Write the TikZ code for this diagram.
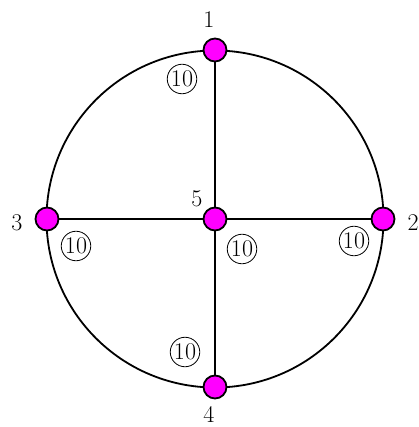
\documentclass[tikz,border=0pt]{standalone}
\usetikzlibrary{backgrounds}
\definecolor{vmag}{RGB}{255,0,255}
\begin{document}
\begin{tikzpicture}[x=1pt,y=-1pt,
  vtx/.style={circle,fill=vmag,draw=black,line width=1.8pt,minimum size=23pt,inner sep=0pt},
  edge/.style={line width=1.8pt,black},
  lbl/.style={font=\fontsize{24}{28}\selectfont,inner sep=0pt},
  wt/.style={circle,draw=black,line width=0.8pt,inner sep=0.8pt,font=\fontsize{24}{28}\selectfont}]
\useasboundingbox (0,0) rectangle (418,427);
\node[vtx] (v1) at (215,50) {};
\node[vtx] (v2) at (383,219) {};
\node[vtx] (v3) at (47,219) {};
\node[vtx] (v4) at (215,387) {};
\node[vtx] (v5) at (215,219) {};
\begin{scope}[on background layer]
\fill[white] (0,0) rectangle (418,427);
\draw[edge] (v5.center) circle[radius=168.5pt];
\end{scope}
\draw[edge] (v1) -- (v5);
\draw[edge] (v3) -- (v5);
\draw[edge] (v5) -- (v2);
\draw[edge] (v5) -- (v4);
\node[lbl] (l1) at (209,20) {1};
\node[lbl] (l2) at (413,223) {2};
\node[lbl] (l3) at (17,223) {3};
\node[lbl] (l4) at (209,414) {4};
\node[lbl] (l5) at (197,199) {5};
\node[wt] (w1) at (182,79) {10};
\node[wt] (w3) at (76,246) {10};
\node[wt] (w5) at (242,249) {10};
\node[wt] (w2) at (354,241) {10};
\node[wt] (w4) at (185,352) {10};
\end{tikzpicture}
\end{document}
